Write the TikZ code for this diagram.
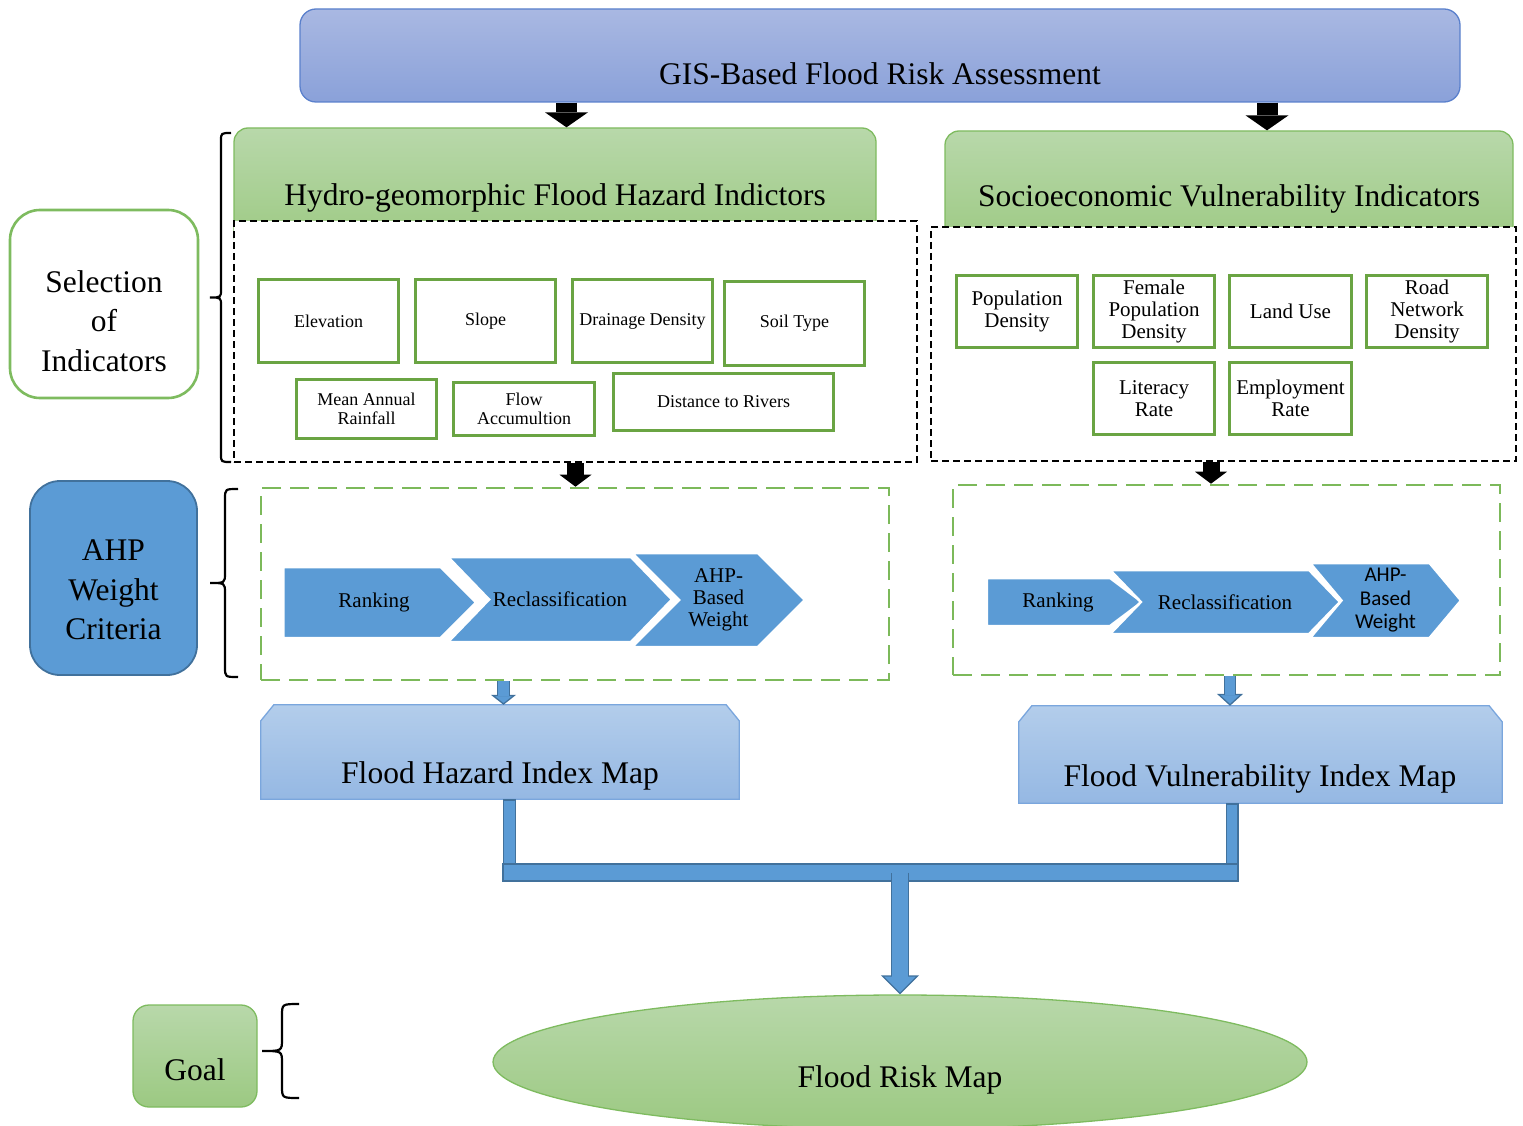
\documentclass[tikz,border=0pt]{standalone}
\usepackage{fontspec}
\setmainfont{Liberation Serif}
\newfontfamily\calibrifont{Carlito}
\usetikzlibrary{shapes.geometric,shapes.symbols,arrows.meta}

\definecolor{gisTop}{HTML}{A9B8E2}
\definecolor{gisBot}{HTML}{8AA1D9}
\definecolor{gisEdge}{HTML}{5A80CC}
\definecolor{hdrTop}{HTML}{B8D8AA}
\definecolor{hdrBot}{HTML}{9CC982}
\definecolor{hdrEdge}{HTML}{7EBB5F}
\definecolor{indEdge}{HTML}{6AA443}
\definecolor{dashGreen}{HTML}{7CB95A}
\definecolor{ahpBlue}{HTML}{5B9BD5}
\definecolor{ahpEdge}{HTML}{41719C}
\definecolor{mapTop}{HTML}{B3CDEB}
\definecolor{mapBot}{HTML}{95B8E3}
\definecolor{mapEdge}{HTML}{7AA6DD}

\tikzset{
  bigtext/.style={font=\fontsize{31.5}{39.5}\selectfont, align=center, inner sep=0pt},
  gisbox/.style={rounded corners=16pt, draw=gisEdge, line width=1.3pt, top color=gisTop, bottom color=gisBot, inner sep=0pt},
  hdrbox/.style={rounded corners=14pt, draw=hdrEdge, line width=1.3pt, top color=hdrTop, bottom color=hdrBot, inner sep=0pt},
  dashbox/.style={draw=black, line width=2.4pt, dash pattern=on 7pt off 4pt, fill=white, inner sep=0pt},
  ahpframe/.style={draw=dashGreen, line width=2.6pt, dash pattern=on 19pt off 9pt, inner sep=0pt},
  hzind/.style={draw=indEdge, line width=2.6pt, fill=white, align=center, inner sep=1pt, font=\fontsize{18}{19}\selectfont},
  vlind/.style={draw=indEdge, line width=2.6pt, fill=white, align=center, inner sep=1pt, font=\fontsize{21}{22}\selectfont},
  selbox/.style={draw=hdrEdge, line width=2.6pt, rounded corners=30pt, fill=white, inner sep=0pt},
  ahpbox/.style={draw=ahpEdge, line width=1.8pt, rounded corners=30pt, fill=ahpBlue, inner sep=0pt},
  goalbox/.style={draw=hdrEdge, line width=1.3pt, rounded corners=16pt, top color=hdrTop, bottom color=hdrBot, inner sep=0pt},
  chev/.style={signal, signal to=east, signal pointer angle=90, fill=ahpBlue, draw=white, line width=2.5pt, inner sep=0pt, align=center, font=\fontsize{21}{22}\selectfont},
  chevin/.style={chev, signal from=west},
  mapslot/.style={inner sep=0pt},
  mapshape/.style={top color=mapTop, bottom color=mapBot, draw=mapEdge, line width=1.3pt},
  blk/.style args={#1/#2/#3}{draw=black, line width=#1, -{Triangle[width=#2, length=#3, line width=0pt]}},
  bluearr/.style args={#1/#2/#3}{draw=ahpEdge, line width=#1, -{Triangle[width=#2, length=#3, fill=ahpBlue, line width=1.3pt]},
    postaction={draw=ahpBlue, line width=#1-2.6pt, -, shorten >=#3-1.5pt}},
  riser/.style={draw=ahpEdge, line width=13pt, postaction={draw=ahpBlue, line width=10.4pt, shorten <=1.3pt}},
  bracket/.style={draw=black, line width=2.2pt}
}

\begin{document}
\begin{tikzpicture}[x=1pt,y=-1pt]
  \useasboundingbox (0,0) rectangle (1523,1126);

  % columns of the drop arrows
  \coordinate (hzdrop) at (566.5,0);
  \coordinate (vldrop) at (1267,0);
  \coordinate (hzstep) at (575.5,0);
  \coordinate (vlstep) at (1211,0);
  \coordinate (hzout) at (503.5,0);
  \coordinate (vlout) at (1230,0);
  \coordinate (hzpipe) at (509.5,0);
  \coordinate (vlpipe) at (1232,0);

  % title
  \node[gisbox, minimum width=1160, minimum height=93] (gis) at (880,55.5) {};
  \node[bigtext] (gis-t) at (880,74) {GIS-Based Flood Risk Assessment};

  % indicator headers and frames
  \node[hdrbox, minimum width=642, minimum height=122] (hydro) at (555,189) {};
  \node[hdrbox, minimum width=568, minimum height=119] (socio) at (1229,190.5) {};
  \node[dashbox, minimum width=683, minimum height=241] (hzbox) at (575.5,341.5) {};
  \node[dashbox, minimum width=585, minimum height=234] (vlbox) at (1223.5,344) {};
  \node[bigtext] (hydro-t) at (555,197.5) {Hydro-geomorphic Flood Hazard Indictors};
  \node[bigtext] (socio-t) at (1229,198.5) {Socioeconomic Vulnerability Indicators};

  \draw[blk=21pt/43pt/15pt] (gis.south -| hzdrop) -- (hydro.north -| hzdrop);
  \draw[blk=21pt/43pt/15pt] (gis.south -| vldrop) -- (socio.north -| vldrop);

  % hazard indicators
  \node[hzind, minimum width=140.5, minimum height=83.5] (elev) at (328.5,321) {Elevation};
  \node[hzind, minimum width=140.5, minimum height=83.5] (slope) at (485.5,321) {Slope};
  \node[hzind, minimum width=140.5, minimum height=83.5] (drain) at (642.5,321) {Drainage Density};
  \node[hzind, minimum width=140.5, minimum height=84.5] (soil) at (794.5,323.5) {Soil Type};
  \node[hzind, minimum width=140.5, minimum height=59.5] (rain) at (366.5,409) {Mean Annual\\Rainfall};
  \node[hzind, minimum width=141.5, minimum height=53.5] (flow) at (524,409) {Flow\\Accumultion};
  \node[hzind, minimum width=220.5, minimum height=57.5] (dist) at (723.5,402) {Distance to Rivers};

  % vulnerability indicators
  \node[vlind, minimum width=121.5, minimum height=72.5] (popd) at (1017,311.5) {Population\\Density};
  \node[vlind, minimum width=121.5, minimum height=72.5] (fem) at (1154,311.5) {Female\\Population\\Density};
  \node[vlind, minimum width=122.5, minimum height=72.5] (land) at (1290.5,311.5) {Land Use};
  \node[vlind, minimum width=121.5, minimum height=72.5] (road) at (1427,311.5) {Road\\Network\\Density};
  \node[vlind, minimum width=121.5, minimum height=72.5] (lit) at (1154,398.5) {Literacy\\Rate};
  \node[vlind, minimum width=122.5, minimum height=72.5] (emp) at (1290.5,398.5) {Employment\\Rate};

  % stage labels
  \node[selbox, minimum width=188, minimum height=188] (sel) at (104,304) {};
  \node[bigtext] (sel-t) at (104,321) {Selection\\of\\Indicators};
  \node[ahpbox, minimum width=167, minimum height=194] (ahp) at (113.5,578) {};
  \node[bigtext] (ahp-t) at (113.5,590) {AHP\\Weight\\Criteria};
  \node[goalbox, minimum width=124, minimum height=102] (goal) at (195,1056) {};
  \node[bigtext] (goal-t) at (195,1070) {Goal};

  % braces
  \draw[bracket] (231,133) .. controls (221,133) .. (221,141) -- (221,289.5)
    .. controls (221,297.5) .. (210,297.5) .. controls (221,297.5) .. (221,305.5)
    -- (221,454) .. controls (221,462) .. (231,462);
  \draw[bracket] (238,489) .. controls (225,489) .. (225,499) -- (225,573)
    .. controls (225,583) .. (210,583) .. controls (225,583) .. (225,593)
    -- (225,667) .. controls (225,677) .. (238,677);
  \draw[bracket] (299,1004) .. controls (282,1004) .. (282,1016) -- (282,1039)
    .. controls (282,1051) .. (262,1051) .. controls (282,1051) .. (282,1063)
    -- (282,1086) .. controls (282,1098) .. (299,1098);

  % weighting frames
  \node[ahpframe, minimum width=628, minimum height=192] (hzahp) at (575,584) {};
  \node[ahpframe, minimum width=547, minimum height=190] (vlahp) at (1226.5,580) {};
  \draw[blk=17pt/32pt/12pt] (hzbox.south -| hzstep) -- (hzahp.north -| hzstep);
  \draw[blk=17pt/32pt/12pt] (vlbox.south -| vlstep) -- (vlahp.north -| vlstep);

  \node[chev, minimum width=193, minimum height=71] (rank1) at (362,602.5) {\hspace*{24pt}Ranking};
  \node[chevin, signal pointer angle=92, minimum width=224, minimum height=85] (recl1) at (560,599.5) {Reclassification};
  \node[chevin, minimum width=173, minimum height=94] (wgt1) at (718.5,600) {AHP-\\Based\\Weight};

  \node[chev, signal pointer angle=74, minimum width=155, minimum height=48] (rank2) at (1048.5,602) {\hspace*{19pt}Ranking};
  \node[chevin, signal pointer angle=92, minimum width=230, minimum height=64] (recl2) at (1225,602) {Reclassification};
  \node[chevin, signal pointer angle=100, minimum width=151, minimum height=75,
        font=\calibrifont\fontsize{21}{23.5}\selectfont] (wgt2) at (1385.5,600.5) {AHP-\\Based\\Weight};

  % index maps
  \node[mapslot, minimum width=478, minimum height=94] (hzmap) at (500,752) {};
  \path[mapshape] (hzmap.south west) -- ([yshift=-16pt]hzmap.north west) -- ([xshift=13pt]hzmap.north west)
    -- ([xshift=-13pt]hzmap.north east) -- ([yshift=-16pt]hzmap.north east) -- (hzmap.south east) -- cycle;
  \node[bigtext] (hzmap-t) at (500,775.5) {Flood Hazard Index Map};
  \node[mapslot, minimum width=483, minimum height=97] (vlmap) at (1260.5,754.5) {};
  \path[mapshape] (vlmap.south west) -- ([yshift=-16pt]vlmap.north west) -- ([xshift=13pt]vlmap.north west)
    -- ([xshift=-13pt]vlmap.north east) -- ([yshift=-16pt]vlmap.north east) -- (vlmap.south east) -- cycle;
  \node[bigtext] (vlmap-t) at (1260,778.5) {Flood Vulnerability Index Map};

  \draw[bluearr=13pt/25pt/10pt] (hzahp.south -| hzout) -- (hzmap.north -| hzout);
  \draw[bluearr=12pt/26pt/12pt] (vlahp.south -| vlout) -- (vlmap.north -| vlout);

  % combining pipe and goal
  \node[draw=ahpEdge, fill=ahpBlue, line width=1.3pt, minimum width=735, minimum height=17, inner sep=0pt] (bar) at (870.5,872.5) {};
  \draw[riser] (hzmap.south -| hzpipe) -- (bar.north -| hzpipe);
  \draw[riser] (vlmap.south -| vlpipe) -- (bar.north -| vlpipe);

  \node[ellipse, top color=hdrTop, bottom color=hdrBot, draw=hdrEdge, line width=1.3pt,
        minimum width=814, minimum height=134, inner sep=0pt] (risk) at (900,1062) {};
  \node[bigtext] (risk-t) at (900,1079.5) {Flood Risk Map};
  \draw[bluearr=18pt/38pt/19pt] (bar.center -| risk.north) -- (risk.north);
\end{tikzpicture}
\end{document}
